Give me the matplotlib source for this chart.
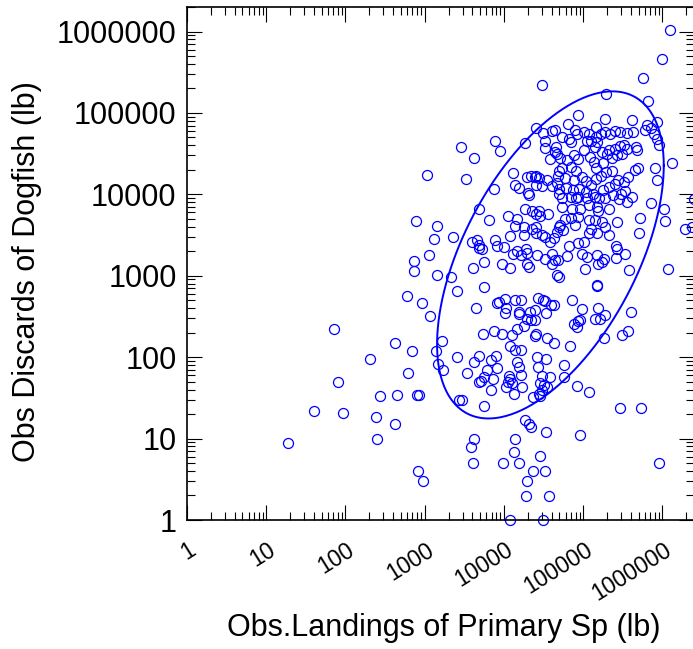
import numpy as np
import matplotlib
matplotlib.use('Agg')
import matplotlib.pyplot as plt
import matplotlib.transforms as mtransforms
from matplotlib.ticker import LogLocator, NullFormatter

plt.rcParams['font.family'] = ['Liberation Sans', 'DejaVu Sans']

# values, as log10(lb)
# sparse points on the left and low side
left_x = [1.27, 1.86, 1.91, 1.60, 1.97, 2.31, 2.63, 2.43, 2.39, 2.40, 2.65, 2.62, 2.79, 2.84, 2.77, 2.86, 2.86, 3.06, 2.97, 3.07,
          3.16, 2.90, 2.93, 2.91, 2.98, 3.14, 3.22, 3.17, 3.23, 3.33, 3.41, 3.41, 3.43, 3.47, 3.53, 3.62, 3.69, 3.65, 3.75, 3.61]
left_y = [0.95, 2.34, 1.69, 1.34, 1.32, 1.98, 2.18, 1.52, 1.26, 1.00, 1.54, 1.18, 1.80, 2.07, 2.75, 3.18, 3.06, 3.25, 2.66, 2.50,
          3.01, 1.53, 1.54, 0.60, 0.48, 2.07, 2.20, 1.91, 1.84, 2.99, 2.81, 2.00, 1.47, 1.47, 1.81, 1.94, 2.02, 2.60, 2.86, 3.10]

# lower part of the cloud
low_x = [3.75, 3.97, 4.08, 3.73, 3.88, 3.98, 3.69, 3.75, 3.83, 3.86, 3.75, 3.78, 3.84, 3.90, 3.91, 3.91, 3.94, 4.01, 4.01, 4.02,
         4.14, 4.21, 4.19, 4.19, 4.16, 4.10, 4.08, 4.14, 4.21, 4.25, 4.29, 4.33, 4.34, 4.39, 4.39, 4.41, 4.39, 4.43, 4.49, 4.52,
         4.53, 4.59, 4.63, 4.54, 4.63, 4.42, 4.53, 4.43, 4.48, 4.58, 4.46, 4.50, 4.54, 4.48, 4.44, 4.36, 4.16, 4.19, 4.21, 4.06,
         4.08, 4.05, 4.10, 4.02, 4.13, 4.23, 3.71, 4.46]
low_y = [3.17, 3.15, 3.10, 2.29, 2.32, 2.28, 1.70, 1.40, 1.60, 1.73, 1.76, 1.84, 1.96, 2.01, 1.87, 2.66, 2.68, 2.72, 2.54, 2.60,
         2.70, 2.70, 2.56, 2.53, 2.34, 2.27, 2.14, 2.09, 2.09, 2.38, 2.47, 2.56, 2.46, 2.58, 2.46, 2.29, 2.26, 2.73, 2.70, 2.69,
         2.54, 2.64, 2.64, 2.24, 2.18, 2.00, 1.98, 1.88, 1.77, 1.76, 1.68, 1.66, 1.63, 1.60, 1.55, 1.51, 1.94, 1.88, 1.78, 1.77,
         1.73, 1.69, 1.68, 1.63, 1.55, 1.63, 1.71, 1.52]

# lower right and below the ellipse
right_low_x = [4.76, 4.76, 4.83, 4.86, 4.98, 4.88, 4.92, 4.93, 4.96, 5.17, 5.19, 5.15, 5.21, 5.28, 5.26, 5.49, 5.57, 5.60, 5.58, 6.07,
               4.92, 5.07, 5.46, 5.73, 4.96, 5.96, 4.26, 4.32, 4.34, 4.53, 3.62, 3.58, 3.61, 4.14, 4.13, 3.99, 4.19, 4.46, 4.36, 4.52,
               4.29, 4.28, 4.57, 4.08, 4.49, 4.12, 4.29]
right_low_y = [1.90, 1.76, 2.14, 2.70, 2.59, 2.41, 2.37, 2.45, 2.46, 2.88, 2.61, 2.47, 2.47, 2.52, 2.23, 2.27, 2.32, 2.55, 3.07, 3.08,
               1.64, 1.57, 1.38, 1.38, 1.04, 0.70, 1.23, 1.18, 1.14, 1.08, 1.00, 0.90, 0.70, 1.00, 0.84, 0.70, 0.70, 0.78, 0.60, 0.60,
               0.48, 0.30, 0.30, 0.00, 0.00, 3.27, 3.28]

# middle left of the cloud
mid_left_x = [3.69, 3.81, 3.15, 3.12, 3.36, 2.89, 3.60, 3.66, 3.69, 3.68, 3.72, 3.89, 3.91, 4.00, 4.05, 4.16, 4.14, 4.07, 4.16, 4.21,
              4.28, 4.29, 4.32, 4.25, 4.25, 4.35, 4.40, 4.40, 4.27, 4.35, 4.40, 4.46, 4.44, 4.55, 4.31, 4.42, 4.52, 4.61, 4.65, 4.61,
              4.48, 4.52, 4.58, 4.63, 4.67, 4.69, 4.67]
mid_left_y = [3.82, 3.69, 3.61, 3.45, 3.47, 3.67, 3.41, 3.44, 3.38, 3.34, 3.33, 3.44, 3.37, 3.35, 3.73, 3.70, 3.61, 3.49, 3.31, 3.25,
              3.33, 3.14, 3.11, 3.60, 3.50, 3.57, 3.52, 3.60, 3.82, 3.80, 3.76, 3.74, 3.80, 3.76, 3.99, 3.25, 3.21, 3.27, 3.19, 3.15,
              3.50, 3.48, 3.41, 3.46, 3.54, 3.60, 3.01]

# middle right of the cloud
mid_right_x = [4.73, 4.84, 4.94, 5.05, 5.15, 5.28, 5.45, 5.55, 4.73, 4.86, 4.96, 5.07, 5.17, 5.19, 5.32, 5.43, 4.77, 4.84, 4.71, 4.75,
               4.90, 4.94, 5.07, 5.15, 5.24, 5.28, 5.32, 5.10, 5.07, 5.17, 4.82, 4.94, 5.01, 5.41, 5.43, 5.53, 5.41, 4.98, 5.05, 5.17,
               5.24, 5.19, 5.26, 4.80, 4.68, 5.02, 4.69, 5.17, 5.72, 5.70, 5.85, 6.02, 6.03, 6.29, 6.37, 6.40]
mid_right_y = [3.95, 3.97, 3.97, 3.95, 3.97, 3.95, 3.94, 3.91, 3.84, 3.82, 3.82, 3.87, 3.84, 3.80, 3.82, 3.66, 3.70, 3.71, 3.62, 3.56,
               3.62, 3.72, 3.68, 3.68, 3.66, 3.60, 3.50, 3.58, 3.52, 3.52, 3.37, 3.40, 3.41, 3.37, 3.33, 3.27, 3.22, 3.27, 3.23, 3.25,
               3.17, 3.15, 3.21, 3.24, 3.19, 3.08, 2.99, 2.89, 3.71, 3.52, 3.89, 3.82, 3.67, 3.57, 3.60, 3.94]

# upper right of the cloud
up_right_x = [4.65, 4.71, 4.80, 4.88, 4.94, 5.01, 5.08, 5.13, 4.73, 4.84, 4.91, 4.68, 4.77, 4.88, 4.98, 5.04, 5.10, 5.16, 5.23, 5.29,
              5.36, 5.25, 5.16, 4.78, 4.87, 4.95, 5.04, 5.12, 5.25, 5.33, 5.40, 5.44, 5.52, 5.57, 5.65, 5.62, 5.48, 5.37, 4.70, 4.91,
              5.20, 5.53, 5.93, 5.91, 5.69]
up_right_y = [4.52, 4.45, 4.42, 4.48, 4.44, 4.54, 4.46, 4.40, 4.32, 4.34, 4.29, 4.23, 4.20, 4.17, 4.21, 4.16, 4.12, 4.19, 4.23, 4.27,
              4.29, 4.38, 4.32, 4.08, 4.05, 4.07, 4.03, 4.00, 4.05, 4.09, 4.13, 4.18, 4.15, 4.21, 4.30, 3.97, 4.01, 3.99, 4.00, 3.96,
              3.96, 4.04, 4.17, 4.32, 4.32]

# top of the cloud
top_x = [6.00, 6.10, 5.75, 5.29, 5.82, 4.93, 5.28, 5.61, 4.81, 5.16, 5.07, 5.01, 4.89, 5.93, 5.81, 5.85, 5.78, 5.89, 5.93, 5.96,
         6.12, 5.63, 5.55, 5.47, 5.40, 5.34, 5.28, 5.23, 5.16, 5.10, 5.05, 4.92, 4.84, 4.82, 4.73, 4.65, 5.17, 5.15, 5.32, 5.40,
         5.46, 5.51, 5.55, 5.49, 5.43, 5.36, 5.30, 5.24, 5.67, 5.68]
top_y = [5.66, 6.02, 5.43, 5.23, 5.15, 4.98, 4.92, 4.91, 4.87, 4.83, 4.74, 4.76, 4.79, 4.89, 4.85, 4.81, 4.79, 4.74, 4.68, 4.60,
         4.38, 4.76, 4.75, 4.76, 4.78, 4.74, 4.76, 4.74, 4.70, 4.66, 4.66, 4.74, 4.64, 4.68, 4.70, 4.79, 4.64, 4.58, 4.54, 4.56,
         4.59, 4.60, 4.56, 4.49, 4.48, 4.45, 4.49, 4.52, 4.58, 4.54]

# upper left of the cloud
up_left_x = [4.48, 3.46, 3.62, 3.89, 3.95, 3.03, 3.52, 3.88, 4.27, 4.41, 4.49, 4.61, 4.52, 4.52, 4.58, 4.66, 4.67, 4.69, 4.11, 4.14,
             4.19, 4.29, 4.34, 4.39, 4.41, 4.44, 4.30, 4.40, 4.48, 4.54, 4.60, 4.67, 4.69]
up_left_y = [5.34, 4.58, 4.45, 4.65, 4.53, 4.24, 4.19, 4.06, 4.63, 4.81, 4.75, 4.78, 4.65, 4.57, 4.44, 4.58, 4.50, 4.29, 4.26, 4.12,
             4.08, 4.21, 4.22, 4.21, 4.22, 4.20, 4.02, 4.11, 4.10, 4.18, 4.10, 4.14, 4.07]

# ellipse in log10 space: centre and covariance-like matrix
ell_center = [4.586, 3.256]
ell_matrix = [[2.046, 1.57], [1.57, 4.036]]

tick_values = [1, 10, 100, 1000, 10000, 100000, 1000000]
tick_labels = ['1', '10', '100', '1000', '10000', '100000', '1000000']

log_x = np.concatenate([left_x, low_x, right_low_x, mid_left_x, mid_right_x, up_right_x, top_x, up_left_x])
log_y = np.concatenate([left_y, low_y, right_low_y, mid_left_y, mid_right_y, up_right_y, top_y, up_left_y])
landings = 10 ** log_x
discards = 10 ** log_y

fig = plt.figure(figsize=(6.93, 6.49), dpi=100)
ax = fig.add_axes([187 / 693, 129 / 649, 507 / 693, 513 / 649])
ax.set_xscale('log')
ax.set_yscale('log')

ax.plot(landings, discards, linestyle='none', marker='o', markersize=7.2,
        markerfacecolor='none', markeredgecolor='#0000ff', markeredgewidth=0.9, clip_on=False)

t = np.linspace(0, 2 * np.pi, 400)
chol = np.linalg.cholesky(np.array(ell_matrix))
ring = chol @ np.vstack([np.cos(t), np.sin(t)])
ax.plot(10 ** (ell_center[0] + ring[0]), 10 ** (ell_center[1] + ring[1]), color='#0000ff', lw=1.4)

ax.set_xlim(1, 2.5e6)
ax.set_ylim(1, 2e6)

ax.set_xticks(tick_values)
ax.set_yticks(tick_values)
ax.set_yticklabels(tick_labels, fontsize=22)
ax.set_xticklabels(tick_labels, rotation=32, ha='right', va='top', rotation_mode='anchor', fontsize=16.5)
for axis in (ax.xaxis, ax.yaxis):
    axis.set_minor_locator(LogLocator(base=10, subs=np.arange(2, 10), numticks=20))
    axis.set_minor_formatter(NullFormatter())

ax.tick_params(which='both', direction='in', top=True, right=True, width=0.8, color='black')
ax.tick_params(which='major', length=11)
ax.tick_params(which='minor', length=5.5)
ax.tick_params(axis='y', pad=7.5)
ax.tick_params(axis='x', pad=13.2)

# nudge the rotated x labels so their ends sit just right of the ticks
offset = mtransforms.ScaledTranslation(1 / 100, 0, fig.dpi_scale_trans)
for lab in ax.get_xticklabels():
    lab.set_transform(lab.get_transform() + offset)

for sp in ax.spines.values():
    sp.set_linewidth(1.2)

ax.set_xlabel('Obs.Landings of Primary Sp (lb)', fontsize=22, va='center')
ax.xaxis.set_label_coords(0.507, -0.2105)
ax.set_ylabel('Obs Discards of Dogfish (lb)', fontsize=22, va='center')
ax.yaxis.set_label_coords(-0.3156, 0.485)

fig.savefig('out.png', dpi=100)
